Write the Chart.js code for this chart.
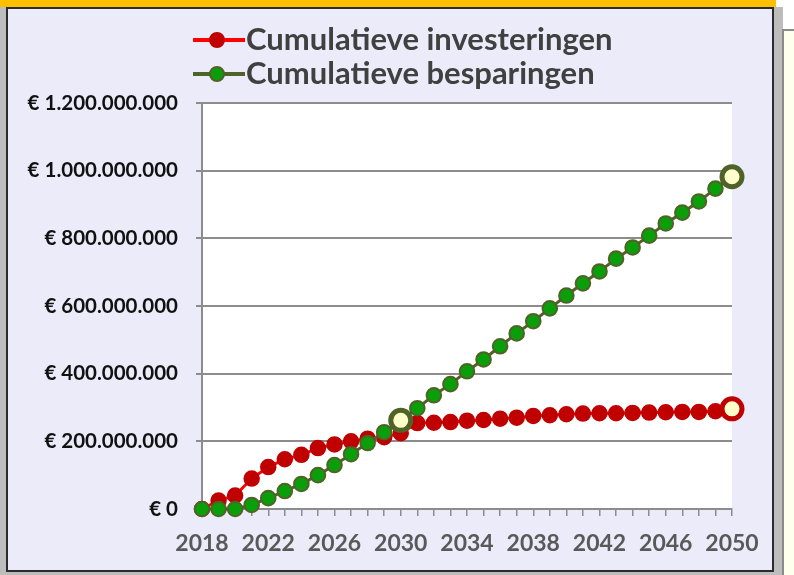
<!DOCTYPE html>
<html>
<head>
<meta charset="utf-8">
<script src="https://cdn.jsdelivr.net/npm/chart.js@4.4.1/dist/chart.umd.min.js"></script>
<style>
html, body { margin:0; padding:0; width:794px; height:575px; overflow:hidden; background:#fff; }
.deco { position:absolute; box-sizing:border-box; }
#yellow { left:0; top:0; width:776px; height:7px; background:#FFC000; }
#leftgrey { left:0; top:7px; width:8px; height:568px; background:#BDBDBD; }
#bottomgrey { left:0; top:570px; width:783px; height:5px; background:#BDBDBD; }
#rightgrey { left:772px; top:7px; width:11px; height:568px; background:#BDBDBD; }
#sidepane { left:782px; top:29px; width:12px; height:546px; background:#FFFFEE; border-top:2px solid #8a8a8a; border-left:2px solid #8a8a8a; }
#panel { left:6px; top:7px; width:768px; height:565px; background:#EBEBFA; border:2px solid #2b2b2b; }
#wrap { position:absolute; left:0; top:0; width:794px; height:575px; }
</style>
</head>
<body>
<div class="deco" id="yellow"></div>
<div class="deco" id="leftgrey"></div>
<div class="deco" id="bottomgrey"></div>
<div class="deco" id="rightgrey"></div>
<div class="deco" id="sidepane"></div>
<div class="deco" id="panel"></div>
<div id="wrap"><canvas id="chart"></canvas></div>
<script>
// years on the x axis
const years = ['2018','2019','2020','2021','2022','2023','2024','2025','2026','2027','2028',
               '2029','2030','2031','2032','2033','2034','2035','2036','2037','2038','2039',
               '2040','2041','2042','2043','2044','2045','2046','2047','2048','2049','2050'];

// values in millions of euro
const investeringen = [0, 25, 40, 90, 124, 147, 160, 180, 191, 200, 208,
                       212, 224, 254, 255, 257, 261, 263, 267, 270, 275, 277,
                       280, 282, 283, 283, 284, 285, 286, 287, 287, 289, 296];
const besparingen = [0, 0, 0, 12, 32, 53, 74, 100, 130, 162, 195,
                     227, 262, 298, 336, 369, 407, 442, 481, 519, 555, 593,
                     631, 667, 702, 740, 773, 808, 844, 876, 909, 947, 982];

// years whose marker is drawn as a large light ring
const highlightInv = ['2050'];
const highlightSav = ['2030', '2050'];
const seriesNames = ['Cumulatieve investeringen', 'Cumulatieve besparingen'];

const hiInv = ctx => highlightInv.includes(years[ctx.dataIndex]);
const hiSav = ctx => highlightSav.includes(years[ctx.dataIndex]);
const euro = v => '€ ' + String(Math.round(v)).replace(/\B(?=(\d{3})+(?!\d))/g, '.');

// line colour, marker fill, marker edge per series
const colInv = ['#FF0000', '#C00000', '#C00000'];
const colSav = ['#4F6228', '#0A9F0A', '#4F6228'];

Chart.defaults.font.family = 'Lato';

const plotBg = {
    id: 'plotBg',
    beforeDraw(chart) {
        const {ctx, chartArea: a} = chart;
        ctx.save();
        ctx.fillStyle = '#fff';
        ctx.fillRect(a.left, a.top, a.width, a.height);
        ctx.restore();
    }
};

// Excel style legend: a line sample with a marker, rows stacked and left aligned
const lineLegend = {
    id: 'lineLegend',
    afterDraw(chart, args, opts) {
        const {ctx} = chart;
        ctx.save();
        chart.data.datasets.forEach((ds, i) => {
            const y = opts.top + i * opts.rowGap;
            const x = opts.left;
            const c = opts.colors[i];
            ctx.strokeStyle = c[0];
            ctx.lineWidth = 4;
            ctx.beginPath(); ctx.moveTo(x, y); ctx.lineTo(x + 52, y); ctx.stroke();
            ctx.fillStyle = c[1];
            ctx.strokeStyle = c[2];
            ctx.lineWidth = 2;
            ctx.beginPath(); ctx.arc(x + 24, y, 7, 0, Math.PI * 2); ctx.fill(); ctx.stroke();
            ctx.font = 'bold 31px Lato';
            ctx.textBaseline = 'middle';
            ctx.fillStyle = '#404040';
            ctx.fillText(ds.label, x + 53, y);
        });
        ctx.restore();
    }
};

var ctx = document.getElementById('chart').getContext('2d');

var chart = new Chart(ctx, {
    type: 'line',
    data: {
        labels: years,
        datasets: [{
            label: seriesNames[0],
            data: investeringen.map(v => v * 1e6),
            order: 1,
            clip: false,
            borderColor: colInv[0],
            borderWidth: 3,
            pointRadius: c => hiInv(c) ? 10 : 7.5,
            pointHoverRadius: c => hiInv(c) ? 10 : 7.5,
            pointBackgroundColor: c => hiInv(c) ? '#FFFFCC' : colInv[1],
            pointBorderColor: colInv[2],
            pointBorderWidth: c => hiInv(c) ? 5 : 1.5
        }, {
            label: seriesNames[1],
            data: besparingen.map(v => v * 1e6),
            order: 0,
            clip: false,
            borderColor: colSav[0],
            borderWidth: 3,
            pointRadius: c => hiSav(c) ? 10 : 7.3,
            pointHoverRadius: c => hiSav(c) ? 10 : 7.3,
            pointBackgroundColor: c => hiSav(c) ? '#FFFFCC' : colSav[1],
            pointBorderColor: colSav[2],
            pointBorderWidth: c => hiSav(c) ? 5 : 2
        }]
    },
    options: {
        responsive: true,
        maintainAspectRatio: false,
        animation: false,
        events: [],
        layout: { padding: { top: 103, right: 62, left: 0, bottom: 0 } },
        plugins: {
            tooltip: { enabled: false },
            legend: { display: false },
            lineLegend: { left: 193, top: 40, rowGap: 34, colors: [colInv, colSav] }
        },
        scales: {
            x: {
                ticks: {
                    autoSkip: false,
                    maxRotation: 0,
                    callback: function (v, i) { return i % 4 === 0 ? this.getLabelForValue(v) : ''; },
                    font: { size: 23, weight: 'bold' },
                    color: '#595959',
                    padding: 14
                },
                grid: { drawOnChartArea: false, color: '#8C8C8C', lineWidth: 1.5, tickLength: 7 },
                border: { color: '#8C8C8C', width: 2 },
                afterFit: s => { s.height = 66; }
            },
            y: {
                min: 0,
                max: 1.2e9,
                ticks: {
                    stepSize: 2e8,
                    callback: v => euro(v),
                    font: { size: 20.5, weight: 'bold' },
                    color: '#111',
                    padding: 18
                },
                grid: { color: '#8C8C8C', lineWidth: 2, tickLength: 6 },
                border: { color: '#8C8C8C', width: 2 },
                afterFit: s => { s.width = 202; }
            }
        }
    },
    plugins: [plotBg, lineLegend]
});
</script>
</body>
</html>
